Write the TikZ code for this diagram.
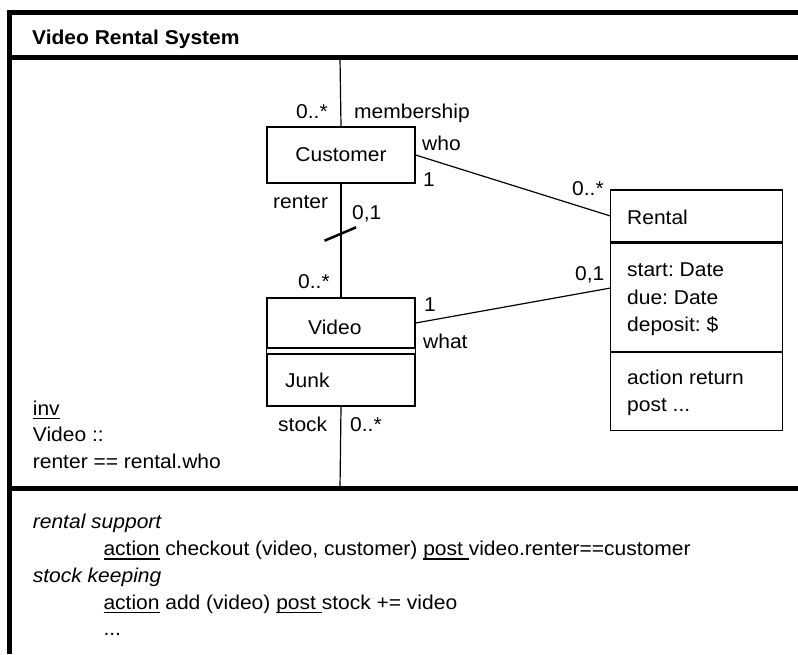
\documentclass[tikz,border=0pt]{standalone}
\usepackage{fontspec}
\setmainfont{Liberation Sans}[FakeStretch=1.05]
\frenchspacing
\newcommand{\ulword}[1]{\setbox0\hbox{#1}\rlap{\rule[-3.8pt]{\wd0}{1.3pt}}\box0\relax}
\tikzset{
	frameline/.style={line width=5pt},
	assoc/.style={line width=1.2pt},
	slashline/.style={line width=2.5pt},
	clsbox/.style={draw, line width=1.2pt, minimum width=148pt, inner sep=0pt},
	lbl/.style={inner sep=0pt, anchor=base west},
}
\begin{document}
\begin{tikzpicture}[x=1pt, y=-1pt, font=\fontsize{20}{24}\selectfont]
		\useasboundingbox (0,0) rectangle (798,654);
		%frame
		\draw[frameline] (798,12.5) -- (9.3,12.5) -- (9.3,654);
		\draw[frameline] (9.3,57.8) -- (798,57.8);
		\draw[frameline] (9.3,488.8) -- (798,488.8);
		\node[lbl] (title) at (32,44) {\textbf{Video Rental System}};
		%Customer 267-415 (127 - 183)
		\node[clsbox, minimum height=56pt] (customer) at (341,155) {Customer};
		%Video 267-415 (298 - 348), Junk (354 - 406)
		\node[clsbox, minimum height=50pt] (video) at (341,323) {};
		\node[lbl] (videotxt) at (308,334) {Video};
		\node[clsbox, minimum height=52pt] (junk) at (341,380) {};
		\node[lbl] (junktxt) at (285,387) {Junk};
		\draw[assoc] (video.south west) -- (junk.north west);
		\draw[assoc] (video.south east) -- (junk.north east);
		%Rental 611-783 (190 - 242 - 350 - 428)
		\node[clsbox, minimum width=172pt, minimum height=51.7pt] (rental) at (696.7,215.9) {};
		\node[clsbox, minimum width=172pt, minimum height=108.3pt, anchor=north] (rentalattr) at (rental.south) {};
		\node[clsbox, minimum width=172pt, minimum height=78.3pt, anchor=north] (rentalops) at (rentalattr.south) {};
		\node[lbl] (rentaltxt) at (627,224) {Rental};
		\node[lbl] (start) at (627,276.7) {start: Date};
		\node[lbl] (due) at (627,304) {due: Date};
		\node[lbl] (deposit) at (627,331.5) {deposit: \$};
		\node[lbl] (return) at (627,384) {action return};
		\node[lbl] (returnpost) at (627,411) {post ...};
		%associations
		\coordinate (memtop) at (340,57.8);
		\coordinate (stockbot) at (340,488.8);
		\draw[assoc] (memtop) -- (customer.north);
		\draw[assoc] (customer.south) -- (video.north) coordinate[pos=0.443] (renterslash);
		\draw[slashline] (renterslash) ++(-16.5,6.7) -- ++(31.6,-13.4);
		\draw[assoc] (customer.east) -- (rental.west);
		\draw[assoc] (video.east) -- ([yshift=9pt]rentalattr.west);
		\draw[assoc] (junk.south) -- (stockbot);
		%role names and multiplicities
		\node[lbl] (memmult) at (296,118.3) {0..*};
		\node[lbl] (membership) at (354,118.3) {membership};
		\node[lbl] (who) at (422,150) {who};
		\node[lbl] (whomult) at (423,186.7) {1};
		\node[lbl] (rentalmult) at (572,195) {0..*};
		\node[lbl] (renter) at (273,208) {renter};
		\node[lbl] (rentermult) at (352,219.5) {0,1};
		\node[lbl] (videomult) at (298,288) {0..*};
		\node[lbl] (whatmult) at (424,311.7) {1};
		\node[lbl] (what) at (423,348) {what};
		\node[lbl] (rentalwhat) at (575,280) {0,1};
		\node[lbl] (stock) at (278,431) {stock};
		\node[lbl] (stockmult) at (350,431.5) {0..*};
		%invariant
		\node[lbl] (inv) at (32.7,415) {\ulword{inv}};
		\node[lbl] (invclass) at (32.7,441) {Video ::};
		\node[lbl] (invexpr) at (32.7,468.3) {renter == rental.who};
		%actions
		\node[lbl] (support) at (32.7,528.3) {\textit{rental support}};
		\node[lbl] (checkout) at (103.3,555.7) {\ulword{action} checkout (video, customer) \ulword{post }video.renter==customer};
		\node[lbl] (keeping) at (32.7,582.3) {\textit{stock keeping}};
		\node[lbl] (add) at (103.3,609) {\ulword{action} add (video) \ulword{post }stock += video};
		\node[lbl] (more) at (103.3,635) {...};
	\end{tikzpicture}
\end{document}
